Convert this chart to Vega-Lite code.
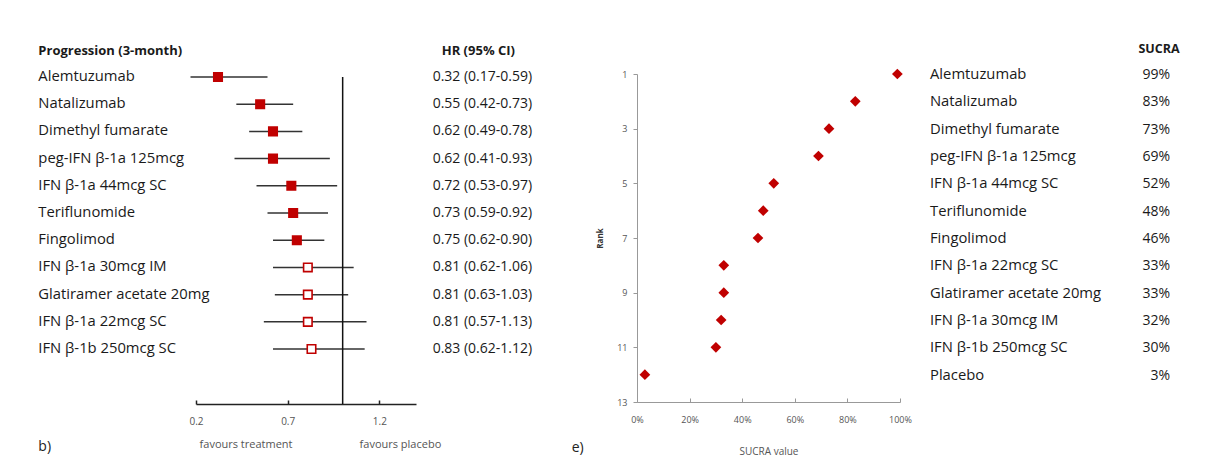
{
  "$schema": "https://vega.github.io/schema/vega-lite/v6.json",
  "background": "white",
  "padding": {"left": 38, "top": 43, "right": 5, "bottom": 5},
  "bounds": "flush",
  "spacing": 221,
  "config": {
    "view": {"stroke": null},
    "font": "Open Sans",
    "axis": {"grid": false, "labelFlush": false},
    "title": {"font": "Open Sans", "fontWeight": "normal", "fontSize": 14, "color": "#222"}
  },
  "datasets": {
    "forest": [
      {"order": 1, "drug": "Alemtuzumab", "hr": 0.32, "lo": 0.17, "hi": 0.59, "sig": true, "ci": "0.32 (0.17-0.59)"},
      {"order": 2, "drug": "Natalizumab", "hr": 0.55, "lo": 0.42, "hi": 0.73, "sig": true, "ci": "0.55 (0.42-0.73)"},
      {"order": 3, "drug": "Dimethyl fumarate", "hr": 0.62, "lo": 0.49, "hi": 0.78, "sig": true, "ci": "0.62 (0.49-0.78)"},
      {"order": 4, "drug": "peg-IFN β-1a 125mcg", "hr": 0.62, "lo": 0.41, "hi": 0.93, "sig": true, "ci": "0.62 (0.41-0.93)"},
      {"order": 5, "drug": "IFN β-1a 44mcg SC", "hr": 0.72, "lo": 0.53, "hi": 0.97, "sig": true, "ci": "0.72 (0.53-0.97)"},
      {"order": 6, "drug": "Teriflunomide", "hr": 0.73, "lo": 0.59, "hi": 0.92, "sig": true, "ci": "0.73 (0.59-0.92)"},
      {"order": 7, "drug": "Fingolimod", "hr": 0.75, "lo": 0.62, "hi": 0.90, "sig": true, "ci": "0.75 (0.62-0.90)"},
      {"order": 8, "drug": "IFN β-1a 30mcg IM", "hr": 0.81, "lo": 0.62, "hi": 1.06, "sig": false, "ci": "0.81 (0.62-1.06)"},
      {"order": 9, "drug": "Glatiramer acetate 20mg", "hr": 0.81, "lo": 0.63, "hi": 1.03, "sig": false, "ci": "0.81 (0.63-1.03)"},
      {"order": 10, "drug": "IFN β-1a 22mcg SC", "hr": 0.81, "lo": 0.57, "hi": 1.13, "sig": false, "ci": "0.81 (0.57-1.13)"},
      {"order": 11, "drug": "IFN β-1b 250mcg SC", "hr": 0.83, "lo": 0.62, "hi": 1.12, "sig": false, "ci": "0.83 (0.62-1.12)"}
    ],
    "sucra": [
      {"rank": 1, "name": "Alemtuzumab", "sucra": 0.99},
      {"rank": 2, "name": "Natalizumab", "sucra": 0.83},
      {"rank": 3, "name": "Dimethyl fumarate", "sucra": 0.73},
      {"rank": 4, "name": "peg-IFN β-1a 125mcg", "sucra": 0.69},
      {"rank": 5, "name": "IFN β-1a 44mcg SC", "sucra": 0.52},
      {"rank": 6, "name": "Teriflunomide", "sucra": 0.48},
      {"rank": 7, "name": "Fingolimod", "sucra": 0.46},
      {"rank": 8, "name": "IFN β-1a 22mcg SC", "sucra": 0.33},
      {"rank": 9, "name": "Glatiramer acetate 20mg", "sucra": 0.33},
      {"rank": 10, "name": "IFN β-1a 30mcg IM", "sucra": 0.32},
      {"rank": 11, "name": "IFN β-1b 250mcg SC", "sucra": 0.30},
      {"rank": 12, "name": "Placebo", "sucra": 0.03}
    ]
  },
  "hconcat": [
    {
      "width": 220,
      "height": 330,
      "title": {"text": "b)", "orient": "bottom", "anchor": "start", "frame": "bounds", "offset": -10},
      "data": {"name": "forest"},
      "layer": [
        {
          "mark": {"type": "rule", "color": "#333333", "strokeWidth": 1.5},
          "encoding": {
            "y": {"field": "order", "type": "quantitative", "scale": {"domain": [0.89, 13.02], "reverse": true, "nice": false, "zero": false}, "axis": null},
            "x": {"field": "lo", "type": "quantitative", "scale": {"domain": [0.2, 1.4], "nice": false, "zero": false},
              "axis": {"values": [0.2, 0.7, 1.2], "format": ".1f", "title": null, "tickSize": -4, "tickColor": "#222", "tickWidth": 1.5, "domainColor": "#222", "domainWidth": 1.5, "labelColor": "#555", "labelFontSize": 10, "labelPadding": 16}},
            "x2": {"field": "hi"}
          }
        },
        {
          "transform": [{"filter": "datum.order == 1"}],
          "mark": {"type": "rule", "color": "#111111", "strokeWidth": 1.5},
          "encoding": {
            "x": {"datum": 1},
            "y": {"datum": 1},
            "y2": {"datum": 13.02}
          }
        },
        {
          "mark": {"type": "point", "shape": "square", "size": 72, "strokeWidth": 1.6, "opacity": 1},
          "encoding": {
            "y": {"field": "order", "type": "quantitative"},
            "x": {"field": "hr", "type": "quantitative", "title": null},
            "stroke": {"value": "#c00000"},
            "fill": {"condition": {"test": "datum.sig", "value": "#c00000"}, "value": "#ffffff"}
          }
        },
        {
          "mark": {"type": "text", "align": "left", "baseline": "middle", "fontSize": 14.8, "color": "#1a1a1a"},
          "encoding": {
            "y": {"field": "order", "type": "quantitative"},
            "x": {"datum": -0.66},
            "text": {"field": "drug"}
          }
        },
        {
          "mark": {"type": "text", "align": "center", "baseline": "middle", "fontSize": 14, "color": "#1a1a1a"},
          "encoding": {
            "y": {"field": "order", "type": "quantitative"},
            "x": {"datum": 1.762},
            "text": {"field": "ci"}
          }
        },
        {
          "transform": [{"filter": "datum.order == 1"}],
          "mark": {"type": "text", "align": "left", "baseline": "middle", "fontSize": 13, "fontWeight": "bold", "color": "#1a1a1a"},
          "encoding": {
            "x": {"datum": -0.66},
            "y": {"datum": 0.04},
            "text": {"value": "Progression (3-month)"}
          }
        },
        {
          "transform": [{"filter": "datum.order == 1"}],
          "mark": {"type": "text", "align": "center", "baseline": "middle", "fontSize": 13, "fontWeight": "bold", "color": "#1a1a1a"},
          "encoding": {
            "x": {"datum": 1.74},
            "y": {"datum": 0.04},
            "text": {"value": "HR (95% CI)"}
          }
        },
        {
          "transform": [{"filter": "datum.order == 1"}],
          "mark": {"type": "text", "align": "center", "baseline": "middle", "fontSize": 11, "color": "#555"},
          "encoding": {
            "x": {"datum": 0.473},
            "y": {"datum": 14.53},
            "text": {"value": "favours treatment"}
          }
        },
        {
          "transform": [{"filter": "datum.order == 1"}],
          "mark": {"type": "text", "align": "center", "baseline": "middle", "fontSize": 11, "color": "#555"},
          "encoding": {
            "x": {"datum": 1.315},
            "y": {"datum": 14.53},
            "text": {"value": "favours placebo"}
          }
        }
      ]
    },
    {
      "width": 263,
      "height": 328,
      "title": {"text": "e)", "orient": "bottom", "anchor": "start", "frame": "bounds", "offset": -15, "dx": -25},
      "data": {"name": "sucra"},
      "layer": [
        {
          "mark": {"type": "point", "shape": "diamond", "size": 115, "filled": true, "color": "#c00000", "opacity": 1},
          "encoding": {
            "y": {"field": "rank", "type": "quantitative", "scale": {"domain": [1, 13], "reverse": true, "nice": false, "zero": false},
              "axis": {"values": [1, 2, 3, 4, 5, 6, 7, 8, 9, 10, 11, 12, 13], "labelExpr": "datum.value % 2 == 1 ? datum.label : ''", "title": "Rank", "titleFontSize": 8, "titleFontWeight": "bold", "titleColor": "#333", "titlePadding": 12, "tickSize": 4, "tickColor": "#999", "domainColor": "#999", "labelColor": "#555", "labelFontSize": 9, "labelPadding": 6}},
            "x": {"field": "sucra", "type": "quantitative", "scale": {"domain": [0, 1], "nice": false},
              "axis": {"values": [0, 0.2, 0.4, 0.6, 0.8, 1], "format": ".0%", "title": "SUCRA value", "titleFontSize": 10, "titleFontWeight": "normal", "titleColor": "#555", "titlePadding": 22, "tickSize": -4, "tickColor": "#999", "domainColor": "#999", "labelColor": "#555", "labelFontSize": 9, "labelPadding": 17}}
          }
        },
        {
          "mark": {"type": "text", "align": "left", "baseline": "middle", "fontSize": 14.8, "color": "#1a1a1a", "dy": 1},
          "encoding": {
            "y": {"field": "rank", "type": "quantitative"},
            "x": {"datum": 1.114},
            "text": {"field": "name"}
          }
        },
        {
          "mark": {"type": "text", "align": "right", "baseline": "middle", "fontSize": 14, "color": "#1a1a1a", "dy": 1},
          "encoding": {
            "y": {"field": "rank", "type": "quantitative"},
            "x": {"datum": 2.027},
            "text": {"field": "sucra", "type": "quantitative", "format": ".0%"}
          }
        },
        {
          "transform": [{"filter": "datum.rank == 1"}],
          "mark": {"type": "text", "align": "center", "baseline": "middle", "fontSize": 12.5, "fontWeight": "bold", "color": "#1a1a1a"},
          "encoding": {
            "x": {"datum": 1.985},
            "y": {"datum": 0.1},
            "text": {"value": "SUCRA"}
          }
        }
      ]
    }
  ]
}
